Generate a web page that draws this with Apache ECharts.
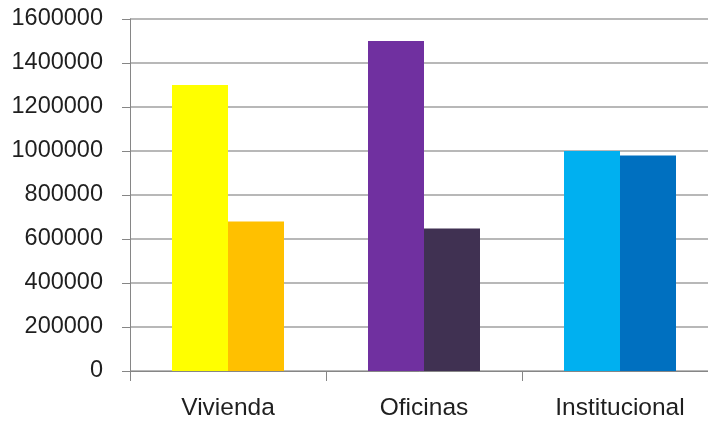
<!DOCTYPE html>
<html>
<head>
<meta charset="utf-8">
<script src="https://cdn.jsdelivr.net/npm/echarts@6/dist/echarts.min.js"></script>
<style>
  html, body { margin: 0; padding: 0; background: #fff; }
  #main { width: 708px; height: 422px; }
</style>
</head>
<body>
<div id="main"></div>
<script>
var categories = ['Vivienda', 'Oficinas', 'Institucional'];
var serieA = [1300000, 1500000, 1000000];
var serieB = [680000, 648000, 980000];
var coloresA = ['#FFFF00', '#7030A0', '#00B0F0'];
var coloresB = ['#FFC000', '#403152', '#0070C0'];

function conColores(values, colors) {
    return values.map(function (v, i) {
        return { value: v, itemStyle: { color: colors[i] } };
    });
}

var chart = echarts.init(document.getElementById('main'));
var fuente = 'Liberation Sans, Arial, sans-serif';

chart.setOption({
    animation: false,
    grid: {
        left: 130, top: 19, width: 588, bottom: 51,
        containLabel: false, outerBoundsMode: 'none'
    },
    xAxis: {
        type: 'category',
        data: categories,
        axisLine: { lineStyle: { color: '#868686', width: 1 } },
        axisTick: { show: true, length: 10, lineStyle: { color: '#868686' } },
        axisLabel: { color: '#1f1f1f', fontSize: 24.5, fontFamily: fuente, margin: 25 }
    },
    yAxis: {
        type: 'value',
        min: 0,
        max: 1600000,
        interval: 200000,
        axisLine: { show: true, lineStyle: { color: '#868686', width: 1 } },
        axisTick: { show: true, length: 8, lineStyle: { color: '#868686' } },
        axisLabel: {
            color: '#1f1f1f', fontSize: 23.5, fontFamily: fuente, margin: 27,
            formatter: function (v) { return String(v); }
        },
        splitLine: { lineStyle: { color: '#A0A0A0', width: 1.5 } }
    },
    series: [
        {
            type: 'bar',
            data: conColores(serieA, coloresA),
            barWidth: 56,
            barGap: '0%'
        },
        {
            type: 'bar',
            data: conColores(serieB, coloresB),
            barWidth: 56,
            barGap: '0%'
        }
    ]
});
</script>
</body>
</html>
